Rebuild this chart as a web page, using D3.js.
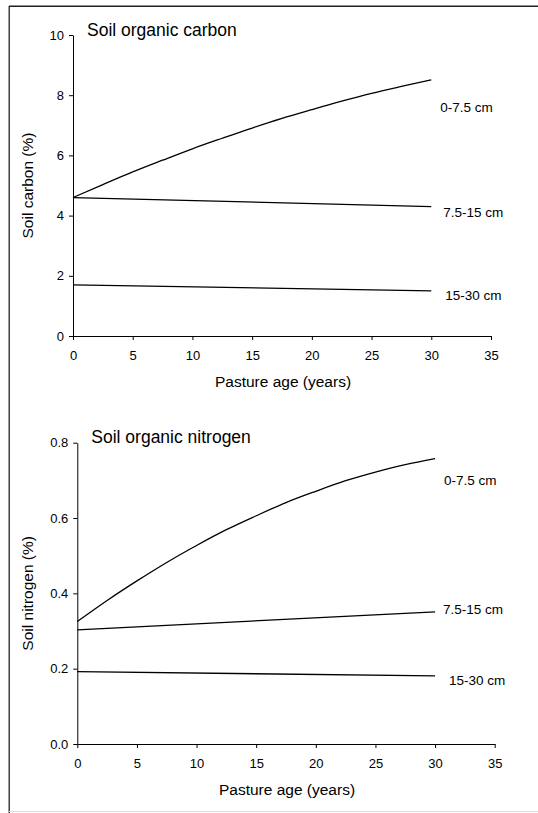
<!DOCTYPE html>
<html>
<head>
<meta charset="utf-8">
<script src="https://cdn.jsdelivr.net/npm/d3@7"></script>
<style>
  body { margin: 0; background: #fff; }
  svg { display: block; font-family: "Liberation Sans", Arial, sans-serif; }
  .axis path, .axis line { stroke: #000; stroke-width: 1; }
  .axis text { font-size: 13px; fill: #000; }
</style>
</head>
<body>
<div id="chart"></div>
<script>
// Data variables
var years = [0, 2.5, 5, 7.5, 10, 12.5, 15, 17.5, 20, 22.5, 25, 27.5, 30];
var yearsEnds = [0, 30];

var carbonTop = [4.60, 5.03, 5.45, 5.84, 6.22, 6.57, 6.91, 7.23, 7.52, 7.80, 8.06, 8.29, 8.51];
var carbonMid = [4.60, 4.30];
var carbonDeep = [1.70, 1.50];

var nitrogenTop = [0.325, 0.381, 0.433, 0.482, 0.527, 0.569, 0.606, 0.641, 0.671, 0.699, 0.722, 0.742, 0.758];
var nitrogenMid = [0.303, 0.351];
var nitrogenDeep = [0.192, 0.181];

var depthLabels = ["0-7.5 cm", "7.5-15 cm", "15-30 cm"];
var xTicks = [0, 5, 10, 15, 20, 25, 30, 35];
var carbonTicks = [0, 2, 4, 6, 8, 10];
var nitrogenTicks = [0, 0.2, 0.4, 0.6, 0.8];

// Layout variables
var width = 538;
var height = 813;

var svg = d3.select("#chart").append("svg")
  .attr("width", width)
  .attr("height", height);

/* Frame */
svg.append("line")
  .attr("x1", 9).attr("x2", width)
  .attr("y1", 6.3).attr("y2", 6.3)
  .attr("stroke", "#222").attr("stroke-width", 1.5);
svg.append("line")
  .attr("x1", 9.2).attr("x2", 9.2)
  .attr("y1", 6).attr("y2", height)
  .attr("stroke", "#222").attr("stroke-width", 1.3);
svg.append("line")
  .attr("x1", 9).attr("x2", width)
  .attr("y1", 811.5).attr("y2", 811.5)
  .attr("stroke", "#ddd").attr("stroke-width", 1.2);

function drawPanel(opt) {
  var xScale = d3.scaleLinear().domain([0, 35]).range([opt.left, opt.right]);
  var yScale = d3.scaleLinear().domain(opt.yDomain).range([opt.bottom, opt.top]);

  var g = svg.append("g");

  var xAxis = d3.axisBottom(xScale)
    .tickValues(xTicks)
    .tickSize(4)
    .tickSizeOuter(0)
    .tickPadding(11);

  var yAxis = d3.axisLeft(yScale)
    .tickValues(opt.yTicks)
    .tickSize(4)
    .tickSizeOuter(0)
    .tickPadding(5)
    .tickFormat(opt.fmt);

  g.append("g")
    .attr("class", "x axis")
    .attr("transform", `translate(0, ${opt.bottom})`)
    .call(xAxis);

  g.append("g")
    .attr("class", "y axis")
    .attr("transform", `translate(${opt.left}, 0)`)
    .call(yAxis);

  var line = d3.line()
    .x(d => xScale(d[0]))
    .y(d => yScale(d[1]))
    .curve(d3.curveMonotoneX);

  opt.series.forEach((s, i) => {
    var pts = s.x.map((x, j) => [x, s.y[j]]);
    g.append("path")
      .attr("d", line(pts))
      .attr("fill", "none")
      .attr("stroke", "#000")
      .attr("stroke-width", 1.3);

    var last = pts[pts.length - 1];
    g.append("text")
      .attr("x", xScale(last[0]) + opt.labelOffsets[i][0])
      .attr("y", yScale(last[1]) + opt.labelOffsets[i][1])
      .attr("font-size", "13.5px")
      .text(depthLabels[i]);
  });

  // panel title
  g.append("text")
    .attr("x", opt.left + 14)
    .attr("y", opt.titleY)
    .attr("font-size", "17.5px")
    .text(opt.title);

  // axis titles
  g.append("text")
    .attr("x", (opt.left + xScale(35)) / 2 + 1)
    .attr("y", opt.bottom + 51)
    .attr("text-anchor", "middle")
    .attr("font-size", "15.5px")
    .text("Pasture age (years)");

  g.append("text")
    .attr("transform", `translate(33, ${(opt.top + opt.bottom) / 2}) rotate(-90)`)
    .attr("text-anchor", "middle")
    .attr("font-size", "15.5px")
    .text(opt.yTitle);
}

drawPanel({
  left: 73, right: 491, top: 35, bottom: 336,
  yDomain: [0, 10], yTicks: carbonTicks, fmt: d3.format("d"),
  title: "Soil organic carbon", titleY: 35.7,
  yTitle: "Soil carbon (%)",
  series: [
    {x: years, y: carbonTop},
    {x: yearsEnds, y: carbonMid},
    {x: yearsEnds, y: carbonDeep}
  ],
  labelOffsets: [[9, 32], [12, 10.6], [14, 9]]
});

drawPanel({
  left: 77.3, right: 494.7, top: 442.7, bottom: 744,
  yDomain: [0, 0.8], yTicks: nitrogenTicks, fmt: d3.format(".1f"),
  title: "Soil organic nitrogen", titleY: 442.5,
  yTitle: "Soil nitrogen (%)",
  series: [
    {x: years, y: nitrogenTop},
    {x: yearsEnds, y: nitrogenMid},
    {x: yearsEnds, y: nitrogenDeep}
  ],
  labelOffsets: [[9, 26], [8, 2.5], [14, 9.5]]
});
</script>
</body>
</html>
